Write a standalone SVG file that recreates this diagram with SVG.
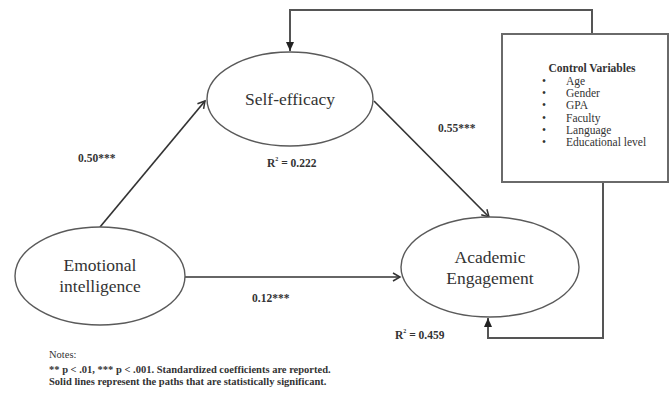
<svg xmlns="http://www.w3.org/2000/svg" width="669" height="396" viewBox="0 0 669 396">
  <style>
    .node { fill: #ffffff; stroke: #5a5a5a; stroke-width: 1.4; }
    .box { fill: #ffffff; stroke: #6a6a6a; stroke-width: 2; }
    .path { fill: none; stroke: #333333; stroke-width: 1.7; }
    .link { fill: none; stroke: #555555; stroke-width: 2; }
    .label { font-family: "Liberation Serif", "Times New Roman", serif; fill: #333333; }
    .big { font-size: 17.5px; }
    .coef { font-size: 11.5px; font-weight: bold; }
    .ctl { font-size: 11.5px; }
    .note { font-size: 10.5px; }
  </style>
  <defs>
    <marker id="open" markerWidth="10" markerHeight="10" refX="8" refY="5" orient="auto" markerUnits="userSpaceOnUse">
      <path d="M1,1 L8,5 L1,9" fill="none" stroke="#333333" stroke-width="1.5"/>
    </marker>
    <marker id="solid" markerWidth="10" markerHeight="10" refX="9" refY="5" orient="auto" markerUnits="userSpaceOnUse">
      <path d="M0,1 L9,5 L0,9 Z" fill="#222222"/>
    </marker>
  </defs>

  <!-- connectors -->
  <g id="connectors">
    <line class="path" x1="100" y1="227" x2="205" y2="101" marker-end="url(#open)"/>
    <line class="path" x1="374" y1="101" x2="489" y2="217" marker-end="url(#open)"/>
    <line class="path" x1="185" y1="277" x2="400" y2="277" marker-end="url(#open)"/>
    <polyline class="link" points="592,34 592,10 290,10 290,51" marker-end="url(#solid)"/>
    <polyline class="link" points="603,182 603,338 488,338 488,318" marker-end="url(#solid)"/>
  </g>

  <g id="self-efficacy">
    <ellipse class="node" cx="290" cy="99" rx="83" ry="47"/>
    <text class="label big" x="290" y="105" text-anchor="middle">Self-efficacy</text>
  </g>

  <g id="emotional-intelligence">
    <ellipse class="node" cx="100" cy="276" rx="85" ry="49"/>
    <text class="label big" x="100" y="271" text-anchor="middle">Emotional</text>
    <text class="label big" x="100" y="292" text-anchor="middle">intelligence</text>
  </g>

  <g id="academic-engagement">
    <ellipse class="node" cx="490" cy="267" rx="89" ry="50"/>
    <text class="label big" x="490" y="263" text-anchor="middle">Academic</text>
    <text class="label big" x="490" y="284" text-anchor="middle">Engagement</text>
  </g>

  <g id="control-variables">
    <rect class="box" x="502" y="34" width="166" height="148"/>
    <text class="label ctl" x="592" y="72" text-anchor="middle" font-weight="bold">Control Variables</text>
    <g class="label ctl">
      <text x="542" y="85">•</text><text x="566" y="85">Age</text>
      <text x="542" y="97">•</text><text x="566" y="97">Gender</text>
      <text x="542" y="109">•</text><text x="566" y="109">GPA</text>
      <text x="542" y="122">•</text><text x="566" y="122">Faculty</text>
      <text x="542" y="134">•</text><text x="566" y="134">Language</text>
      <text x="542" y="146">•</text><text x="566" y="146">Educational level</text>
    </g>
  </g>

  <!-- path coefficients and explained variance -->
  <g id="estimates" class="label coef">
    <text x="78" y="162">0.50***</text>
    <text x="438" y="132">0.55***</text>
    <text x="252" y="302">0.12***</text>
    <text x="267" y="167">R<tspan dy="-6" font-size="6">2</tspan><tspan dy="6"> = 0.222</tspan></text>
    <text x="395" y="339">R<tspan dy="-6" font-size="6">2</tspan><tspan dy="6"> = 0.459</tspan></text>
  </g>

  <g id="notes" class="label note">
    <text x="49" y="358">Notes:</text>
    <text x="49" y="373" font-weight="bold">** p &lt; .01, *** p &lt; .001. Standardized coefficients are reported.</text>
    <text x="49" y="385" font-weight="bold">Solid lines represent the paths that are statistically significant.</text>
  </g>
</svg>
